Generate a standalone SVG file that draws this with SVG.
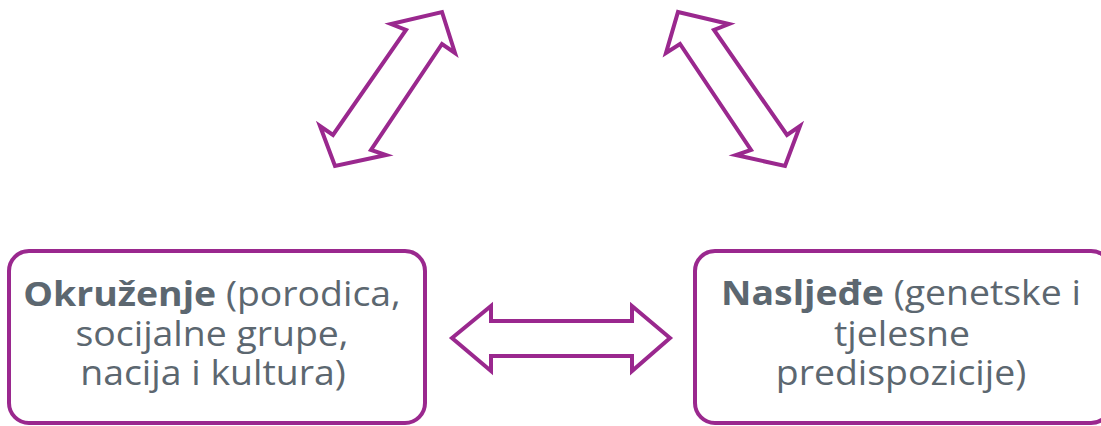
<svg xmlns="http://www.w3.org/2000/svg" width="1101" height="426" viewBox="0 0 1101 426">
<style>
.box{fill:#fff;stroke:#9a288e;stroke-width:4}
.arr{fill:#fff;stroke:#9a288e;stroke-width:4;stroke-linejoin:miter}
.t{font-family:"Open Sans",sans-serif;font-size:34px;fill:#5c6770;text-anchor:middle}
.b{font-weight:bold}
</style>
<rect width="1101" height="426" fill="#fff"/>
<g id="connectors">
<polygon class="arr" points="442,12 455,53 442,44 371,150 386,155 335,166 320,126 333,135 406,30 391,24"/>
<polygon class="arr" points="678,12 729,24 714,30 787,135 800,126 785,166 736,155 751,150 680,44 666,53"/>
<polygon class="arr" points="452,338 491,306 491,321 632,321 632,306 670,338 632,371 632,356 491,356 491,371"/>
</g>
<g id="node-okruzenje">
<rect class="box" x="9" y="251" width="416" height="172" rx="20"/>
<text class="t" transform="translate(212,306) scale(1.1,1)"><tspan class="b">Okruženje</tspan> (porodica,</text>
<text class="t" transform="translate(212,346) scale(1.1,1)">socijalne grupe,</text>
<text class="t" transform="translate(213,385) scale(1.1,1)">nacija i kultura)</text>
</g>
<g id="node-naslijede">
<rect class="box" x="695" y="251" width="416" height="172" rx="20"/>
<text class="t" transform="translate(901,305) scale(1.1,1)"><tspan class="b">Nasljeđe</tspan> (genetske i</text>
<text class="t" transform="translate(902,346) scale(1.1,1)">tjelesne</text>
<text class="t" transform="translate(901,385) scale(1.1,1)">predispozicije)</text>
</g>
</svg>
